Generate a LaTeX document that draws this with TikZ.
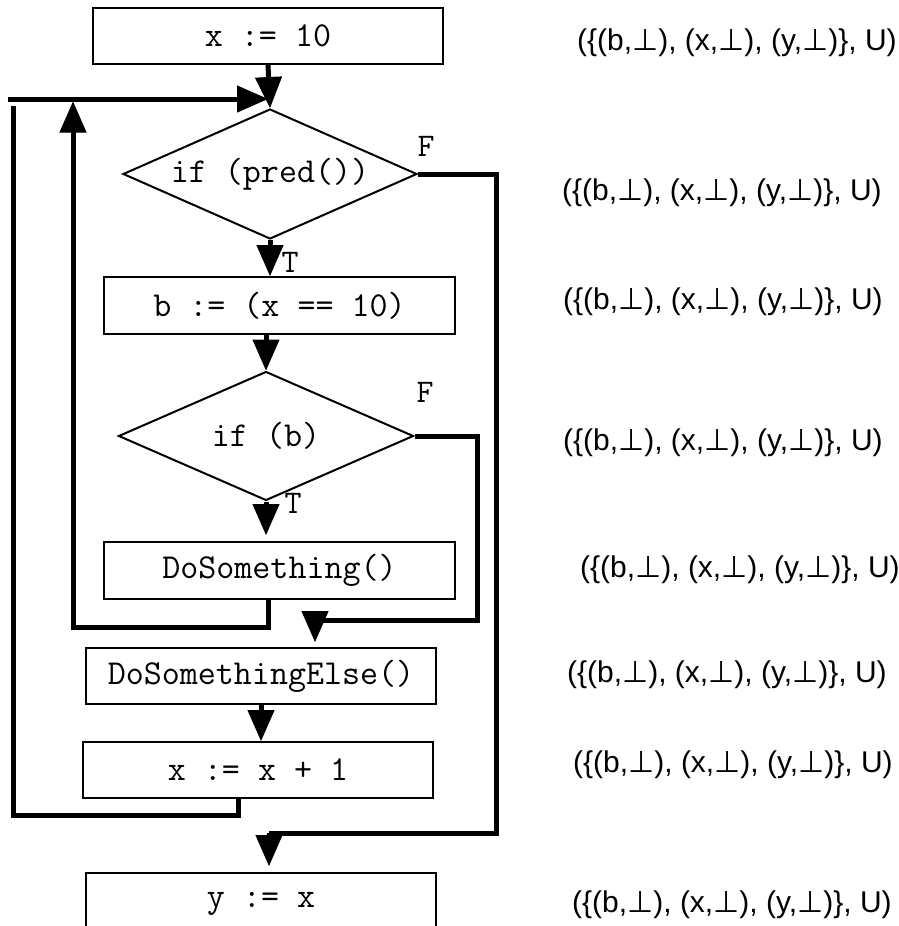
\documentclass[tikz,border=0pt]{standalone}
\usepackage{fontspec}
\usetikzlibrary{arrows.meta,shapes.geometric}
\newfontfamily\labelfont{Liberation Sans}
\newfontfamily\perpfont{DejaVu Sans}
\newcommand\bt{{\perpfont ⊥}}
\newcommand\envstate{(\{(b,\bt), (x,\bt), (y,\bt)\}, U)}
\newcommand\codesize{\ttfamily\fontsize{35}{40}\selectfont}

\tikzset{
  codetext/.style={font=\codesize, inner sep=0pt},
  stmt/.style={draw, line width=2pt, rectangle, minimum width=350pt, minimum height=56pt,
    inner sep=0pt, font=\codesize},
  decision/.style={draw, line width=2pt, diamond, inner sep=0pt,
    minimum width=294pt, minimum height=130pt},
  branch/.style={font={\ttfamily\fontsize{33}{38}\selectfont}, inner sep=0pt},
  conn/.style={line width=5pt},
  arr/.style={conn, -{Triangle[width=27pt,length=31pt,line width=1pt]}},
  envlabel/.style={anchor=west, inner sep=0pt, font={\labelfont\fontsize{30}{36}\selectfont}}
}

\begin{document}
\begin{tikzpicture}[x=1pt,y=-1pt]
  \fill[white] (0,0) rectangle (898,926);
  \clip (0,0) rectangle (898,926);

  % statements and decisions
  \node[stmt] (init) at (268,36) {x := 10};
  \node[decision] (cond1) at (270,174) {};
  \node[codetext] (cond1text) at (cond1) {if (pred())};
  \node[stmt, minimum width=351pt, minimum height=57pt] (assignb) at (279.5,305.5) {b := (x == 10)};
  \node[decision, minimum width=295pt, minimum height=129pt] (cond2) at (266,436) {};
  \node[codetext] (cond2text) at (cond2) {if (b)};
  \node[stmt, minimum width=351pt, minimum height=57pt] (work) at (279.5,570.5) {DoSomething()};
  \node[stmt] (other) at (261,676) {DoSomethingElse()};
  \node[stmt] (incr) at (258,770) {x := x + 1};
  \node[stmt, minimum height=62pt] (final) at (261,904) {y := x};

  % branch labels
  \node[branch] (f1) at (426,146) {F};
  \node[branch] (t1) at (290,262) {T};
  \node[branch] (f2) at (425,392) {F};
  \node[branch] (t2) at (293,503) {T};

  % join points
  \coordinate (loopin) at (8,99);
  \coordinate (backin) at (73,99);
  \coordinate (mergeB) at (315,620);
  \coordinate (mergeA) at (269,833);

  % main flow
  \draw[arr] (init.south) -- (cond1.north);
  \draw[arr, shorten >=2pt] (loopin) -- (loopin -| cond1.north);
  \draw[arr] (cond1.south) -- (cond1.south |- assignb.north);
  \draw[arr] (cond2.north |- assignb.south) -- (cond2.north);
  \draw[arr, shorten >=6pt] (cond2.south) -- (cond2.south |- work.north);
  \draw[arr] (other.south) -- (other.south |- incr.north);

  % false branch of the inner test
  \draw[conn] (cond2.east) -| (477,620) -- (mergeB);
  \draw[arr, shorten >=5pt] (mergeB) -- (mergeB |- other.north);

  % inner loop back edge
  \draw[arr, shorten >=2.5pt] ([xshift=-11pt]work.south) |- (73,627) -- (backin);

  % outer loop back edge
  \draw[conn] ([xshift=-20pt]incr.south) |- (13,815) -- (13,106);

  % loop exit
  \draw[conn] (cond1.east) -| (496,833) -- (mergeA);
  \draw[arr, shorten >=6pt] (mergeA) -- (mergeA |- final.north);

  % abstract states
  \node[envlabel] (s1) at (577,43) {\envstate};
  \node[envlabel] (s2) at (562,193) {\envstate};
  \node[envlabel] (s3) at (563,302) {\envstate};
  \node[envlabel] (s4) at (563,443) {\envstate};
  \node[envlabel] (s5) at (580,570) {\envstate};
  \node[envlabel] (s6) at (567,675) {\envstate};
  \node[envlabel] (s7) at (573,765) {\envstate};
  \node[envlabel] (s8) at (572,905) {\envstate};
\end{tikzpicture}
\end{document}
